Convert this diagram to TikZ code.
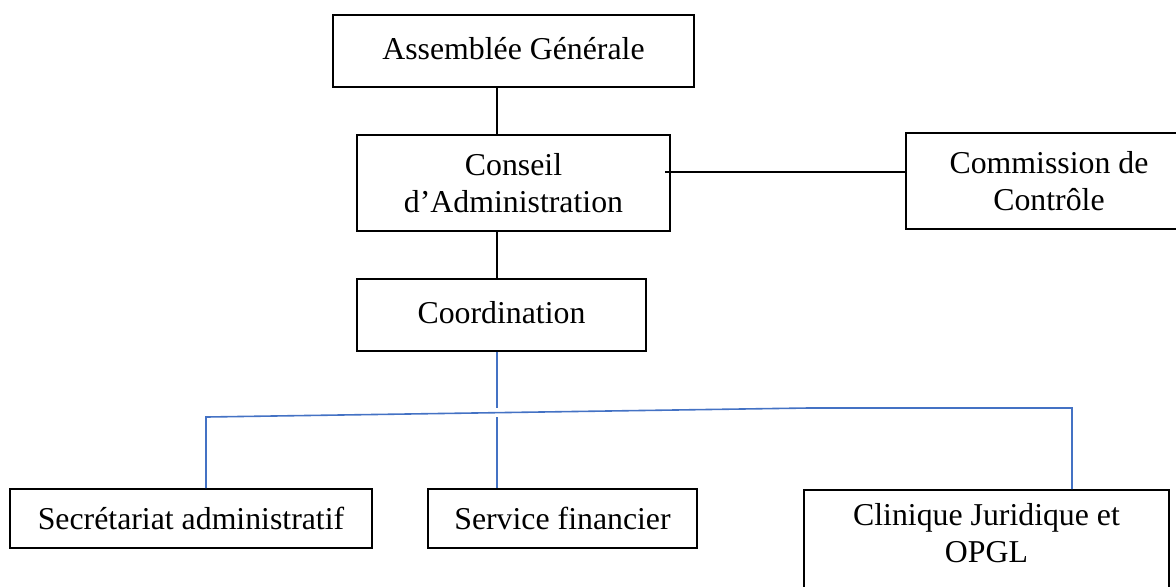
\documentclass[tikz,border=0pt]{standalone}
\usepackage{fontspec}
\setmainfont{Liberation Serif}
\usetikzlibrary{positioning}

\begin{document}
\begin{tikzpicture}[x=0.5pt,y=-0.5pt,
    box/.style={draw,line width=0.9pt,inner sep=0pt,align=center,
      font=\fontsize{15.9}{18.5}\selectfont},
    link/.style={line width=0.9pt},
    bluelink/.style={line width=0.8pt,draw=orgblue}]
  \definecolor{orgblue}{HTML}{4472C4}
  \useasboundingbox (0,0) rectangle (1176,586);
  \clip (0,0) rectangle (1176,586);
  % top of the chart
  \node[box,minimum width=180.5pt,minimum height=36pt] (ag) at (513.5,51) {\raisebox{3pt}{Assemblée Générale}};
  \node[box,minimum width=156.5pt,minimum height=48pt] (ca) at (513.5,183) {Conseil\\d’Administration};
  \node[box,minimum width=144.5pt,minimum height=36pt] (coord) at (501.5,315) {\raisebox{3pt}{Coordination}};
  \node[box,minimum width=143pt,minimum height=48pt] (com) at (1049,181) {Commission de\\Contrôle};
  % services
  \node[box,minimum width=181pt,minimum height=29.5pt] (sec) at (191,518.5) {Secrétariat administratif};
  \node[box,minimum width=134.5pt,minimum height=29.5pt] (serv) at (562.5,518.5) {Service financier};
  \node[box,minimum width=182.5pt,minimum height=65.5pt,anchor=north] (clin) at (986.5,489) {};
  \node[font=\fontsize{15.9}{18.5}\selectfont,align=center,anchor=north,inner sep=0pt] (clintxt) at (986.5,503) {Clinique Juridique et\\OPGL};
  % connectors
  \coordinate (spine) at (497,0);
  \coordinate (tie) at (665,172);
  \coordinate (fork) at (497,408);
  \coordinate (forkL) at (206,417);
  \coordinate (forkM) at (497,417);
  \coordinate (knee) at (808,408);
  \coordinate (forkR) at (1072,408);
  \draw[link] (ag.south -| spine) -- (ca.north -| spine);
  \draw[link] (ca.south -| spine) -- (coord.north -| spine);
  \draw[link] (tie) -- (com.west |- tie);
  \draw[bluelink] (coord.south -| spine) -- (fork);
  \draw[bluelink] (sec.north -| forkL) -- (forkL) -- (knee) -- (forkR) -- (clin.north -| forkR);
  \draw[bluelink] (forkM) -- (serv.north -| forkM);
\end{tikzpicture}
\end{document}
